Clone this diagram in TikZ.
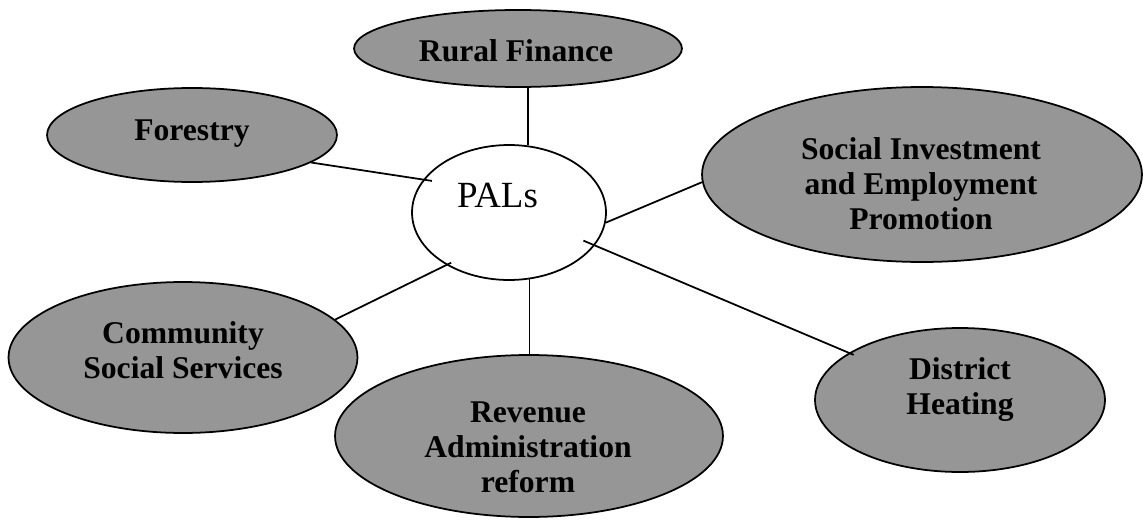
\documentclass[tikz,border=0pt]{standalone}
\usepackage{fontspec}
\setmainfont{Liberation Serif}
\usepackage{xcolor}
\usepackage{tikz}
\usetikzlibrary{shapes.geometric}

\definecolor{bubblegray}{RGB}{150,150,150}

\begin{document}
\begin{tikzpicture}[x=0.02cm, y=-0.02cm,
        bubble/.style = {ellipse, draw = black, line width = 1pt, fill = bubblegray, inner sep = 0pt},
        hub/.style = {ellipse, draw = black, line width = 1pt, fill = white, inner sep = 0pt},
        caption/.style = {align = center, inner sep = 0pt, font = \bfseries\fontsize{18}{20}\selectfont},
        spoke/.style = {line width = 1pt}]
        \useasboundingbox (0, 0) rectangle (1143, 524);

        \node[hub, minimum width = 3.88cm, minimum height = 2.7cm] (pals) at (509, 212.5) {};
        \node[inner sep = 0pt, font = \fontsize{21}{24}\selectfont] (palstxt) at (497.5, 195.5) {PALs};

        \node[bubble, minimum width = 6.56cm, minimum height = 1.54cm] (rural) at (518, 48.5) {};
        \node[caption] (ruraltxt) at (516, 51) {Rural Finance};

        \node[bubble, minimum width = 5.8cm, minimum height = 1.88cm] (forest) at (192, 135) {};
        \node[caption] (foresttxt) at (192, 133.5) {Forestry};

        \node[bubble, minimum width = 8.8cm, minimum height = 3.5cm] (sip) at (922, 174.5) {};
        \node[caption] (siptxt) at (921, 183.5) {Social Investment\\and Employment\\Promotion};

        \node[bubble, minimum width = 6.98cm, minimum height = 3.02cm] (css) at (183, 357.5) {};
        \node[caption] (csstxt) at (183, 350.5) {Community\\Social Services};

        \node[bubble, minimum width = 7.76cm, minimum height = 3.24cm] (revenue) at (529, 436) {};
        \node[caption] (revenuetxt) at (528, 447) {Revenue\\Administration\\reform};

        \node[bubble, minimum width = 5.8cm, minimum height = 2.88cm] (heating) at (960, 400) {};
        \node[caption] (heatingtxt) at (960, 389.5) {District\\Heating};

        \draw[spoke] (pals.74) -- (pals.74 |- rural.south);
        \draw[spoke] (pals.-73.5) -- (pals.-73.5 |- revenue.north);
        \draw[spoke, shorten <= -5pt] (pals.159) -- (forest.-13);
        \draw[spoke, shorten <= -3pt] (pals.220) -- (css.14);
        \draw[spoke] (pals.-6) -- (sip.182.5);
        \draw[spoke, shorten <= -7pt, shorten >= -3pt] (pals.-21) -- (heating.157.5);
\end{tikzpicture}
\end{document}
